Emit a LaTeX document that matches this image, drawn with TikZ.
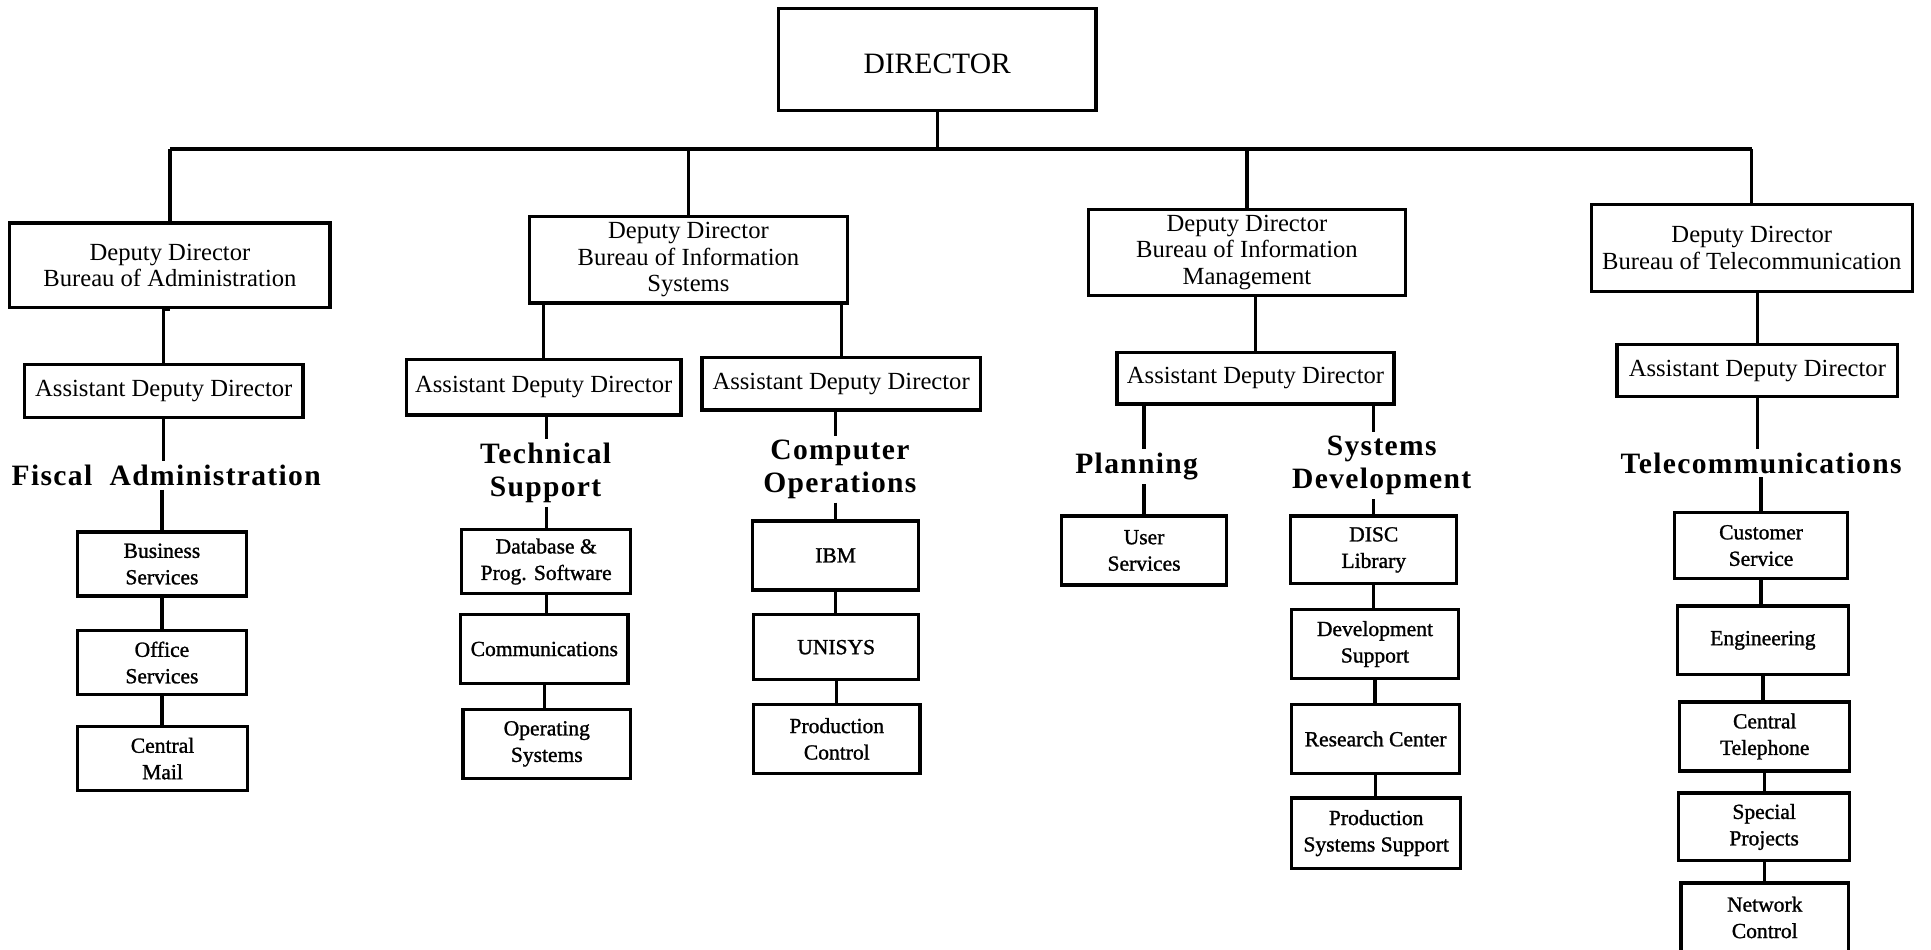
\documentclass[tikz,border=0pt]{standalone}
\usepackage{fontspec}
\setmainfont{Liberation Serif}
\newfontfamily\headfont[LetterSpace=4.5]{Liberation Serif}
\newfontfamily\leaffont[FakeBold=1.2]{Liberation Serif}
\usetikzlibrary{calc}
\tikzset{
  box/.style={draw, line width=2.6pt, align=center, inner sep=0pt, anchor=center,
    font=\fontsize{20}{21.5}\selectfont},
  leaf/.style={draw, line width=2.6pt, align=center, inner sep=0pt, anchor=center,
    font=\leaffont\fontsize{17.5}{21.5}\selectfont},
  head/.style={align=center, inner sep=3pt, anchor=center,
    font=\headfont\bfseries\fontsize{24}{27}\selectfont},
  conn/.style={line width=2.6pt},
}
\begin{document}
\begin{tikzpicture}[x=1pt,y=-1pt]
\clip (0,0) rectangle (1568,771);
\fill[white] (0,0) rectangle (1568,771);
% Director
\node[box, minimum width=258, minimum height=83, text height=23pt, text depth=0pt, font=\fontsize{24}{26}\selectfont] (dir) at (761,48.5) {DIRECTOR};
% Deputy directors
\node[box, minimum width=260, minimum height=69] (dd1) at (138,215.5) {Deputy Director\\Bureau of Administration};
\node[box, minimum width=258, minimum height=70] (dd2) at (559,211) {Deputy Director\\Bureau of Information\\Systems};
\node[box, minimum width=257, minimum height=70] (dd3) at (1012.5,205) {Deputy Director\\Bureau of Information\\Management};
\node[box, minimum width=261, minimum height=71] (dd4) at (1422.5,201.5) {Deputy Director\\Bureau of Telecommunication};
% Assistant deputy directors
\node[box, minimum width=226, minimum height=43] (a1) at (133,317.5) {Assistant Deputy Director};
\node[box, minimum width=223, minimum height=45] (a2) at (441.5,314.5) {Assistant Deputy Director};
\node[box, minimum width=226, minimum height=43] (a3) at (683,311.5) {Assistant Deputy Director};
\node[box, minimum width=225, minimum height=42] (a4) at (1019.5,307) {Assistant Deputy Director};
\node[box, minimum width=228, minimum height=42] (a5) at (1427,301) {Assistant Deputy Director};
% Headings
\node[head] (fa) at (135,386) {Fiscal\ \ Administration};
\node[head] (ts) at (443,384) {Technical\\Support};
\node[head] (co) at (682,381) {Computer\\Operations};
\node[head] (pl) at (923,379) {Planning};
\node[head] (sd) at (1122,378) {Systems\\Development};
\node[head] (tc) at (1430,376) {Telecommunications};
% Leaves: Fiscal Administration
\node[leaf, minimum width=137, minimum height=52] (bs) at (131.5,458) {Business\\Services};
\node[leaf, minimum width=137, minimum height=52] (os) at (131.5,538) {Office\\Services};
\node[leaf, minimum width=138, minimum height=52] (cm) at (132,616) {Central\\Mail};
% Technical Support
\node[leaf, minimum width=137, minimum height=52] (db) at (443.5,456) {Database \&\\Prog. Software};
\node[leaf, minimum width=136, minimum height=56] (cmm) at (442,527) {Communications};
\node[leaf, minimum width=136, minimum height=56] (ops) at (444,604) {Operating\\Systems};
% Computer Operations
\node[leaf, minimum width=135, minimum height=56] (ibm) at (678.5,451) {IBM};
\node[leaf, minimum width=134, minimum height=53] (uni) at (679,525.5) {UNISYS};
\node[leaf, minimum width=135, minimum height=56] (pc) at (679.5,600) {Production\\Control};
% Planning
\node[leaf, minimum width=134, minimum height=56] (us) at (929,447) {User\\Services};
% Systems Development
\node[leaf, minimum width=135, minimum height=55] (disc) at (1115.5,446.5) {DISC\\Library};
\node[leaf, minimum width=135, minimum height=56] (dev) at (1116.5,523) {Development\\Support};
\node[leaf, minimum width=136, minimum height=56] (rc) at (1117,600) {Research Center};
\node[leaf, minimum width=137, minimum height=57] (pss) at (1117.5,676.5) {Production\\Systems Support};
% Telecommunications
\node[leaf, minimum width=140, minimum height=54] (cs) at (1430,443) {Customer\\Service};
\node[leaf, minimum width=139, minimum height=56] (eng) at (1431.5,520) {Engineering};
\node[leaf, minimum width=138, minimum height=56] (ct) at (1433,598) {Central\\Telephone};
\node[leaf, minimum width=139, minimum height=55] (sp) at (1432.5,671.5) {Special\\Projects};
\node[leaf, minimum width=136, minimum height=56] (nc) at (1433,745) {Network\\Control};
% Top bar
\coordinate (bar) at (761,121);
\draw[conn] (dir.south) -- (bar);
\draw[conn] (dd1.north |- bar) -- (dd4.north |- bar);
\foreach \n in {dd1,dd2,dd3,dd4} \draw[conn] (\n.north |- bar) -- (\n.north);
% Deputy to assistants
\draw[conn] (dd1.south) -- (dd1.south -| a1.north) -- (a1.north);
\draw[conn] (a2.north |- dd2.south) -- (a2.north);
\draw[conn] (a3.north |- dd2.south) -- (a3.north);
\draw[conn] (a4.north |- dd3.south) -- (a4.north);
\draw[conn] (a5.north |- dd4.south) -- (a5.north);
% Assistants to headings to leaves
\draw[conn] (a1.south) -- (a1.south |- fa.north);
\draw[conn] (bs.north |- fa.south) -- (bs.north);
\draw[conn] (db.north |- a2.south) -- (db.north |- ts.north);
\draw[conn] (db.north |- ts.south) -- (db.north);
\draw[conn] (ibm.north |- a3.south) -- (ibm.north |- co.north);
\draw[conn] (ibm.north |- co.south) -- (ibm.north);
\draw[conn] (us.north |- a4.south) -- (us.north |- pl.north);
\draw[conn] (us.north |- pl.south) -- (us.north);
\draw[conn] (disc.north |- a4.south) -- (disc.north |- sd.north);
\draw[conn] (disc.north |- sd.south) -- (disc.north);
\draw[conn] (a5.south) -- (a5.south |- tc.north);
\draw[conn] (cs.north |- tc.south) -- (cs.north);
% Leaf chains
\foreach \u/\v in {bs/os, os/cm, db/cmm, cmm/ops, ibm/uni, uni/pc, disc/dev, dev/rc, rc/pss, cs/eng, eng/ct, ct/sp, sp/nc}
  \draw[conn] (\u.south) -- (\u.south |- \v.north);
\end{tikzpicture}
\end{document}
